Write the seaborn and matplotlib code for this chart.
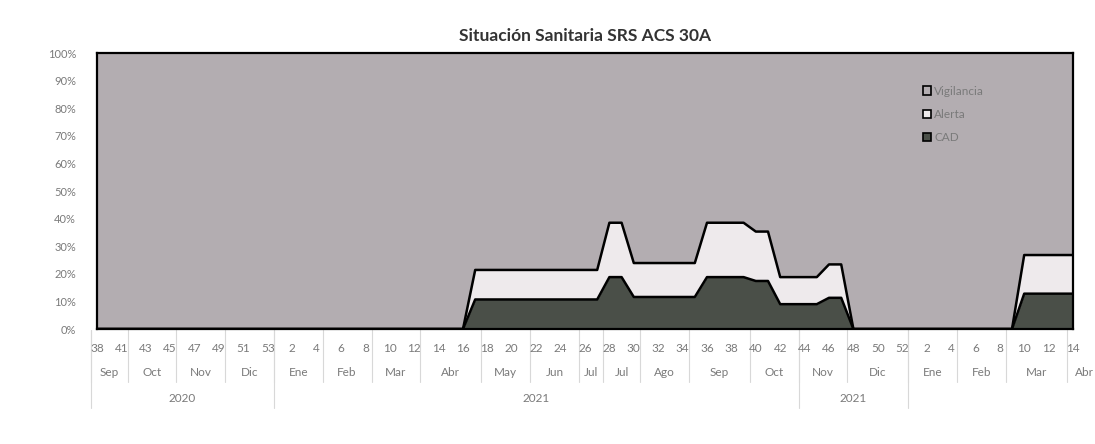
import matplotlib.pyplot as plt
import numpy as np
import pandas as pd
import seaborn as sns

# Weekly categories (2020 wk 38 -> 2022 wk 14)
weeks_2020 = [38, 39, 41, 42, 43, 44, 45, 46, 47, 48, 49, 50, 51, 52, 53]
weeks_2021 = list(range(1, 53))
weeks_2022 = list(range(1, 15))
weeks = weeks_2020 + weeks_2021 + weeks_2022

# month / year groups shown under the axis (label, number of weeks)
month_groups = [("Sep", 3), ("Oct", 4), ("Nov", 4), ("Dic", 4), ("Ene", 4), ("Feb", 4),
                ("Mar", 4), ("Abr", 5), ("May", 4), ("Jun", 4), ("Jul", 2), ("Jul", 3),
                ("Ago", 4), ("Sep", 5), ("Oct", 4), ("Nov", 4), ("Dic", 5), ("Ene", 4),
                ("Feb", 4), ("Mar", 5), ("Abr", 1)]
year_groups = [("2020", 15), ("2021", 43), ("2021", 9), ("", 14)]

# % of zones per state (100% stacked)
cad_2020 = [0, 0, 0, 0, 0, 0, 0, 0, 0, 0, 0, 0, 0, 0, 0]
cad_2021 = [0, 0, 0, 0, 0, 0, 0, 0, 0, 0, 0, 0, 0, 0, 0, 0,
            10.7, 10.7, 10.7, 10.7, 10.7, 10.7, 10.7, 10.7, 10.7, 10.7, 10.7,
            18.8, 18.8,
            11.6, 11.6, 11.6, 11.6, 11.6, 11.6,
            18.8, 18.8, 18.8, 18.8,
            17.4, 17.4,
            9.0, 9.0, 9.0, 9.0,
            11.3, 11.3,
            0, 0, 0, 0, 0]
cad_2022 = [0, 0, 0, 0, 0, 0, 0, 0, 0, 12.8, 12.8, 12.8, 12.8, 12.8]

alerta_2020 = [0, 0, 0, 0, 0, 0, 0, 0, 0, 0, 0, 0, 0, 0, 0]
alerta_2021 = [0, 0, 0, 0, 0, 0, 0, 0, 0, 0, 0, 0, 0, 0, 0, 0,
               10.7, 10.7, 10.7, 10.7, 10.7, 10.7, 10.7, 10.7, 10.7, 10.7, 10.7,
               19.7, 19.7,
               12.3, 12.3, 12.3, 12.3, 12.3, 12.3,
               19.7, 19.7, 19.7, 19.7,
               17.9, 17.9,
               9.8, 9.8, 9.8, 9.8,
               12.1, 12.1,
               0, 0, 0, 0, 0]
alerta_2022 = [0, 0, 0, 0, 0, 0, 0, 0, 0, 14.0, 14.0, 14.0, 14.0, 14.0]

df = pd.DataFrame({
    "idx": np.arange(len(weeks)),
    "week": weeks,
    "CAD": cad_2020 + cad_2021 + cad_2022,
    "Alerta": alerta_2020 + alerta_2021 + alerta_2022,
})
df["Vigilancia"] = 100 - df["CAD"] - df["Alerta"]
df["cum_alerta"] = df["CAD"] + df["Alerta"]

sns.set_theme(style="white")
plt.rcParams["font.family"] = ["Lato", "DejaVu Sans"]

col_vig = "#b3adb1"
col_ale = "#eeeaec"
col_cad = "#4a4f48"
txt_col = "#7a7a7a"

fig = plt.figure(figsize=(10.95, 4.44), dpi=100)
ax = fig.add_axes([97 / 1095, 1 - 329 / 444, (1073 - 97) / 1095, (329 - 53) / 444])

ax.stackplot(df["idx"], df["CAD"], df["Alerta"], df["Vigilancia"],
             colors=[col_cad, col_ale, col_vig], linewidth=0)
sns.lineplot(data=df, x="idx", y="cum_alerta", ax=ax, color="black", linewidth=1.8)
sns.lineplot(data=df, x="idx", y="CAD", ax=ax, color="black", linewidth=1.8)

ax.set_xlim(0, len(weeks) - 1)
ax.set_ylim(0, 100)
ax.set_xlabel("")
ax.set_ylabel("")
ax.set_xticks([])
ax.set_yticks(np.arange(0, 101, 10))
ax.set_yticklabels([f"{v}%" for v in range(0, 101, 10)], fontsize=8, color=txt_col)
ax.tick_params(axis="y", length=3, color="#cccccc", pad=12)
for s in ax.spines.values():
    s.set_color("black")
    s.set_linewidth(1.6)

# category labels under the plot
tr = ax.get_xaxis_transform()
for i in range(0, len(weeks), 2):
    ax.text(i, -0.072, str(weeks[i]), transform=tr, ha="center", va="center",
            fontsize=8.5, color=txt_col)

sep = dict(color="#d8d8d8", linewidth=0.8, transform=tr, clip_on=False)
start = 0
for name, n in month_groups:
    ax.plot([start - 0.5, start - 0.5], [-0.004, -0.192], **sep)
    cx = start + (n - 1) / 2
    if start + n == len(weeks):
        cx = start + 0.9
    ax.text(cx, -0.156, name, transform=tr, ha="center", va="center",
            fontsize=8.5, color=txt_col, clip_on=False)
    start += n

start = 0
for name, n in year_groups:
    ax.plot([start - 0.5, start - 0.5], [-0.004, -0.286], **sep)
    ax.text(start + (n - 1) / 2, -0.25, name, transform=tr, ha="center", va="center",
            fontsize=8.5, color=txt_col)
    start += n

ax.set_title("Situación Sanitaria SRS ACS 30A", fontsize=12.5, fontweight="bold",
             color="#333333", pad=9)

# legend inside the plot, upper right
handles = [plt.Rectangle((0, 0), 1, 1, facecolor=c, edgecolor="black", linewidth=1.2)
           for c in [col_vig, col_ale, col_cad]]
ax.legend(handles, ["Vigilancia", "Alerta", "CAD"], loc="upper left",
          bbox_to_anchor=(0.835, 0.92), frameon=False, fontsize=8.5,
          labelcolor=txt_col, handlelength=0.7, handleheight=0.7,
          handletextpad=0.3, labelspacing=1.05)

fig.savefig("out.png", dpi=100, facecolor="white")
